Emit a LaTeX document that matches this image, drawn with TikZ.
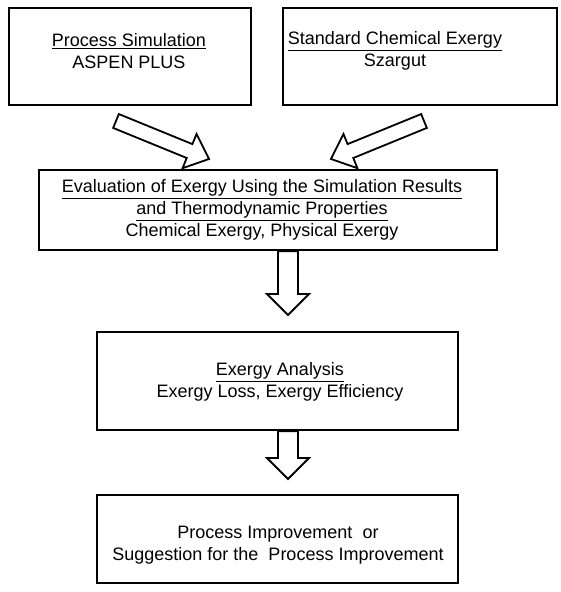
\documentclass[tikz,border=0pt]{standalone}
\usepackage{fontspec}
\setmainfont{Liberation Sans}
\usetikzlibrary{calc}
\begin{document}
\begin{tikzpicture}[x=1pt, y=-1pt, line join=miter, font=\fontsize{18}{22}\selectfont,
	box/.style={draw, line width=2.6pt, inner sep=0pt},
	txt/.style={align=center, inner sep=0pt},
	hollow/.style={draw, line width=1.8pt, fill=white}]
			\def\hl{21pt}
			\useasboundingbox (0,0) rectangle (560,592);
			%\draw[color=gray!30] (0,0) grid[step=20] (560,592);
			\node[box, minimum width=242pt, minimum height=97pt] (sim) at (130,56.5) {};
			\node[box, minimum width=274pt, minimum height=97pt] (chem) at (420,56.5) {};
			\node[box, minimum width=458pt, minimum height=80pt] (eval) at (268,210) {};
			\node[box, minimum width=361pt, minimum height=98pt] (ana) at (277.5,381) {};
			\node[box, minimum width=361pt, minimum height=88pt] (imp) at (277.5,539) {};
			\node[txt] (simtxt) at (129,51) {\underline{Process Simulation}\\ASPEN PLUS};
			\node[txt] (chemtxt) at (395,51) {\underline{Standard Chemical Exergy}\\Szargut};
			\node[txt] (evaltxt) at (262,210) {\underline{Evaluation of Exergy Using the Simulation Results}\\
				\underline{and Thermodynamic Properties}\\Chemical Exergy, Physical Exergy};
			\node[txt] (anatxt) at (280,382) {\underline{Exergy Analysis}\\Exergy Loss, Exergy Efficiency};
			\node[txt] (imptxt) at (278,545) {Process Improvement\ \ or\\Suggestion for the\ \ Process Improvement};
			% block arrows
			\coordinate (t1) at (116,121); \coordinate (p1) at (209,159);
			\coordinate (t2) at (424,121); \coordinate (p2) at (331,159);
			\coordinate (t3) at ($(eval.south)+(20,0)$); \coordinate (p3) at (288,315);
			\coordinate (t4) at ($(ana.south)+(10.5,0)$); \coordinate (p4) at (288,479);
			\foreach \a/\b/\s/\h in {t1/p1/7.5pt/18.5pt, t2/p2/7.5pt/18.5pt, t3/p3/10pt/21pt, t4/p4/10pt/21pt}{
				\coordinate (hb) at ($(\b)!\hl!(\a)$);
				\draw[hollow] ($(\a)!\s!90:(\b)$) -- ($(hb)!\s!90:(\b)$) -- ($(hb)!\h!90:(\b)$) -- (\b)
					-- ($(hb)!\h!-90:(\b)$) -- ($(hb)!\s!-90:(\b)$) -- ($(\a)!\s!-90:(\b)$) -- cycle;
			}
		\end{tikzpicture}
\end{document}
